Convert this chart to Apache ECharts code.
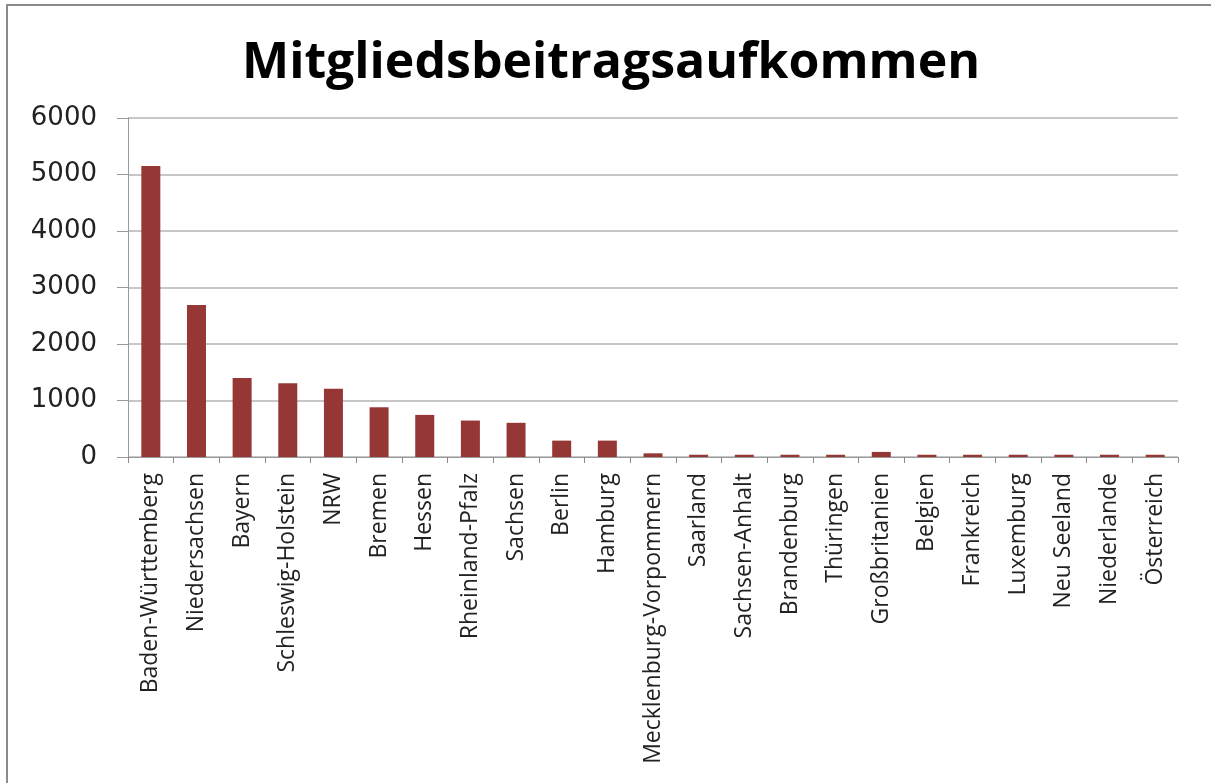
<!DOCTYPE html>
<html>
<head>
<meta charset="utf-8">
<script src="https://cdn.jsdelivr.net/npm/echarts@6/dist/echarts.min.js"></script>
<style>
  html, body { margin: 0; padding: 0; background: #fff; }
  #chart { width: 1211px; height: 783px; }
</style>
</head>
<body>
<div id="chart"></div>
<script>
const categories = [
  "Baden-Württemberg", "Niedersachsen", "Bayern", "Schleswig-Holstein", "NRW",
  "Bremen", "Hessen", "Rheinland-Pfalz", "Sachsen", "Berlin", "Hamburg",
  "Mecklenburg-Vorpommern", "Saarland", "Sachsen-Anhalt", "Brandenburg",
  "Thüringen", "Großbritanien", "Belgien", "Frankreich", "Luxemburg",
  "Neu Seeland", "Niederlande", "Österreich"
];
const values = [
  5150, 2690, 1400, 1305, 1210, 880, 745, 645, 605, 290, 290,
  65, 40, 40, 40, 40, 90, 40, 40, 40, 40, 40, 40
];
const yTicks = [0, 1000, 2000, 3000, 4000, 5000, 6000];

const chart = echarts.init(document.getElementById("chart"));

chart.setOption({
  animation: false,
  backgroundColor: "#fff",
  title: {
    text: "Mitgliedsbeitragsaufkommen",
    left: 237,
    top: 34,
    textStyle: {
      fontFamily: "Open Sans",
      fontWeight: "bold",
      fontSize: 50,
      color: "#000"
    }
  },
  graphic: [{
    type: "rect",
    shape: { x: 7, y: 5, width: 1300, height: 900 },
    style: { fill: "none", stroke: "#8a8a8a", lineWidth: 2 },
    silent: true
  }],
  grid: { left: 128, right: 33, top: 118, bottom: 326 },
  xAxis: {
    type: "category",
    data: categories,
    axisLine: { lineStyle: { color: "#9a9a9a" } },
    axisTick: { show: true, length: 6, lineStyle: { color: "#8a8a8a" } },
    axisLabel: {
      rotate: 90,
      interval: 0,
      margin: 16,
      fontFamily: "Open Sans",
      fontSize: 23,
      color: "#222"
    }
  },
  yAxis: {
    type: "value",
    min: yTicks[0],
    max: yTicks[yTicks.length - 1],
    interval: 1000,
    axisLine: { show: true, lineStyle: { color: "#9a9a9a" } },
    axisTick: { show: true, length: 11, lineStyle: { color: "#9a9a9a" } },
    splitLine: { lineStyle: { color: "#b4b4b4", width: 1.5 } },
    axisLabel: {
      margin: 31,
      fontFamily: "'DejaVu Sans'",
      fontSize: 26,
      color: "#222",
      formatter: (v) => String(v)
    }
  },
  series: [{
    type: "bar",
    data: values,
    barWidth: 19,
    itemStyle: { color: "#953735" }
  }]
});
</script>
</body>
</html>
